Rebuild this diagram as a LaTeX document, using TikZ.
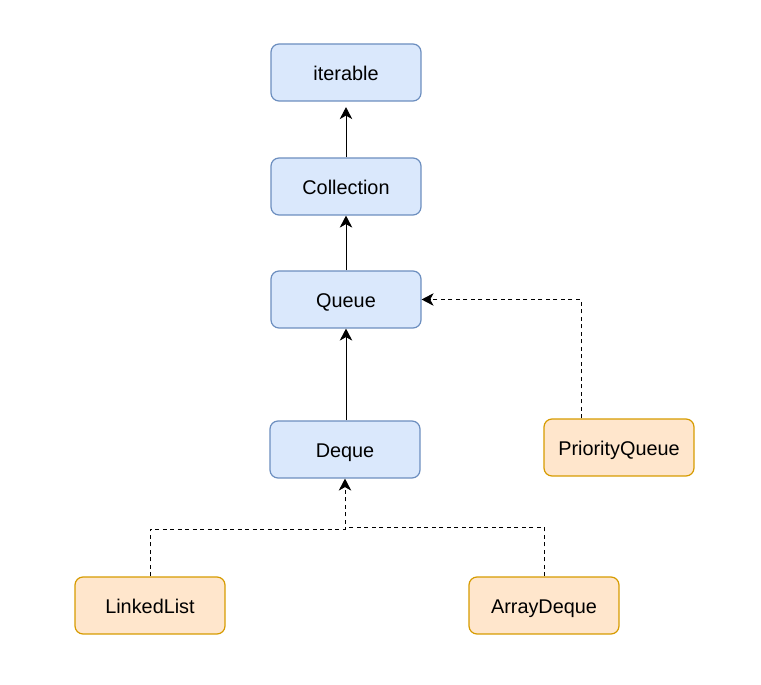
\documentclass[tikz,border=0pt]{standalone}
\usepackage{fontspec}
\setmainfont{Liberation Sans}
\usetikzlibrary{arrows.meta}
\definecolor{ifacefill}{HTML}{DAE8FC}
\definecolor{ifaceline}{HTML}{6C8EBF}
\definecolor{implfill}{HTML}{FFE6CC}
\definecolor{implline}{HTML}{D79B00}
\tikzset{
    iface/.style={draw=ifaceline, fill=ifacefill, rounded corners=0.16cm, line width=0.7pt,
        minimum width=3cm, minimum height=1.14cm, inner sep=0pt, text height=0.9em, text depth=0pt,
        font=\fontsize{11.3}{13}\selectfont},
    impl/.style={iface, draw=implline, fill=implfill},
    extends/.style={line width=0.55pt, -{Stealth[length=0.24cm, width=0.25cm, inset=0.07cm]}},
    realizes/.style={extends, dash pattern=on 0.08cm off 0.07cm}
}
\begin{document}
\begin{tikzpicture}[x=0.02cm, y=-0.02cm]
        \useasboundingbox (0, 0) rectangle (761, 685);
        \node[iface] (iterable) at (346, 72.5) {iterable};
        \node[iface] (collection) at (346, 186.5) {Collection};
        \node[iface] (queue) at (346, 299.5) {Queue};
        \node[iface] (deque) at (345, 449.5) {Deque};
        \node[impl] (pqueue) at (619, 447.5) {PriorityQueue};
        \node[impl] (llist) at (150, 605.5) {LinkedList};
        \node[impl] (adeque) at (544, 605.5) {ArrayDeque};
        \coordinate (joinL) at (345, 529.3);
        \coordinate (joinR) at (345, 527.3);
        \draw[extends, shorten >=0.11cm] (collection) -- (iterable);
        \draw[extends] (queue) -- (collection);
        \draw[extends] (deque.north -| queue.south) -- (queue.south);
        \draw[realizes] (pqueue.north -| 581, 0) |- (queue.east);
        \draw[realizes] (llist.north) |- (joinL) -- (deque.south);
        \draw[realizes, -] (adeque.north) |- (joinR);
    \end{tikzpicture}
\end{document}
